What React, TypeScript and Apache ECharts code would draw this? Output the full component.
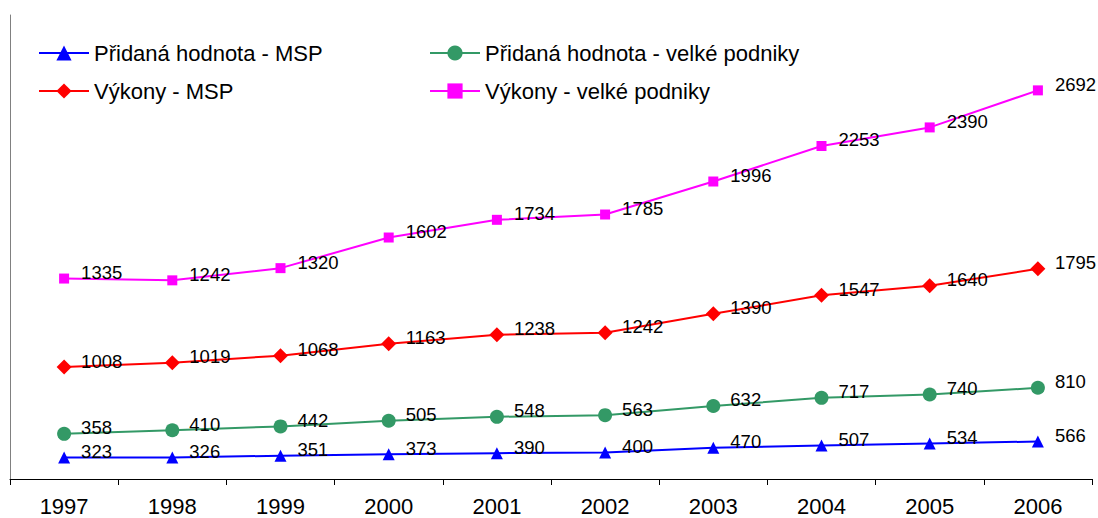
import React, { useEffect, useRef } from "react";
import * as echarts from "echarts";

const years = ["1997", "1998", "1999", "2000", "2001", "2002", "2003", "2004", "2005", "2006"];
const phMSP = [323, 326, 351, 373, 390, 400, 470, 507, 534, 566];
const phVelke = [358, 410, 442, 505, 548, 563, 632, 717, 740, 810];
const vyMSP = [1008, 1019, 1068, 1163, 1238, 1242, 1390, 1547, 1640, 1795];
const vyVelke = [1335, 1242, 1320, 1602, 1734, 1785, 1996, 2253, 2390, 2692];

const FONT = "'Liberation Sans', Arial, sans-serif";

export default function App() {
  const ref = useRef<HTMLDivElement>(null);
  useEffect(() => {
    if (!ref.current) return;
    const chart = echarts.init(ref.current, null, { renderer: "svg" });
    const mk = (name: string, data: number[], color: string, symbol: string, size: number) => ({
      name,
      type: "line",
      stack: "total",
      data,
      symbol,
      symbolSize: size,
      itemStyle: { color },
      lineStyle: { color, width: 2 },
      label: {
        show: true,
        position: "right",
        distance: 17 - size / 2,
        offset: [0, -6],
        fontSize: 18.5,
        fontFamily: FONT,
        color: "#000",
      },
    });
    const legendBase = {
      orient: "vertical",
      top: 42,
      padding: 0,
      itemWidth: 50,
      itemHeight: 19,
      itemGap: 16,
      textStyle: { fontSize: 22, fontFamily: FONT, color: "#000" },
    };
    chart.setOption({
      animation: false,
      textStyle: { fontFamily: FONT },
      grid: { left: 10, right: 6, top: 15, bottom: 39, containLabel: false },
      legend: [
        { ...legendBase, left: 38, data: ["Přidaná hodnota - MSP", "Výkony - MSP"] },
        { ...legendBase, left: 429, data: ["Přidaná hodnota - velké podniky", "Výkony - velké podniky"] },
      ],
      xAxis: {
        type: "category",
        data: years,
        boundaryGap: true,
        axisLine: { lineStyle: { color: "#000", width: 1 } },
        axisTick: { show: true, interval: 0, length: 6, lineStyle: { color: "#000" } },
        axisLabel: { fontSize: 22, color: "#000", margin: 16, fontFamily: FONT },
      },
      yAxis: {
        type: "value",
        min: 0,
        max: 7000,
        axisLine: { show: true, lineStyle: { color: "#808080", width: 1 } },
        axisTick: { show: false },
        axisLabel: { show: false },
        splitLine: { show: false },
      },
      series: [
        mk("Přidaná hodnota - MSP", phMSP, "#0000FF", "triangle", 12),
        mk("Přidaná hodnota - velké podniky", phVelke, "#339966", "circle", 14),
        mk("Výkony - MSP", vyMSP, "#FF0000", "diamond", 15),
        mk("Výkony - velké podniky", vyVelke, "#FF00FF", "rect", 10),
      ],
    });
    return () => chart.dispose();
  }, []);
  return <div ref={ref} style={{ width: 1098, height: 518, position: "absolute", left: 0, top: 0 }} />;
}
